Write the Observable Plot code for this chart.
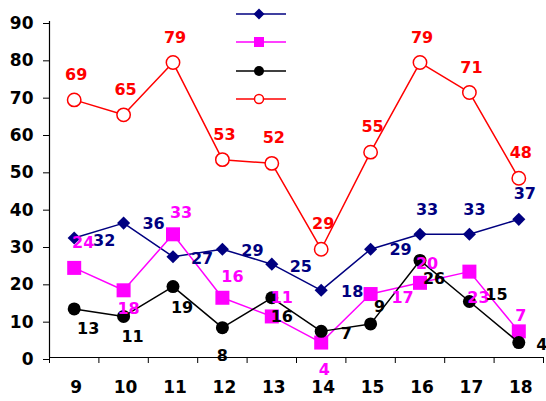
<!DOCTYPE html>
<html>
<head>
<meta charset="utf-8">
<script src="https://cdn.jsdelivr.net/npm/d3@7"></script>
<script src="https://cdn.jsdelivr.net/npm/@observablehq/plot@0.6"></script>
<style>
  html, body { margin: 0; padding: 0; background: #fff; }
  #wrap { position: relative; width: 546px; height: 401px; }
  #legend { position: absolute; left: 0; top: 0; pointer-events: none; }
</style>
</head>
<body>
<div id="wrap"></div>
<script>
// ---- data ----
const categories = [9, 10, 11, 12, 13, 14, 15, 16, 17, 18];
const navySeries    = [32, 36, 27, 29, 25, 18, 29, 33, 33, 37];
const magentaSeries = [24, 18, 33, 16, 11, 4, 17, 20, 23, 7];
const blackSeries   = [13, 11, 19, 8, 16, 7, 9, 26, 15, 4];
const redSeries     = [69, 65, 79, 53, 52, 29, 55, 79, 71, 48];
const yTicks = [0, 10, 20, 30, 40, 50, 60, 70, 80, 90];

// ---- label placement (pixel offsets, style only) ----
const navyOff    = [[30,3],[30,1],[29,2],[30,2],[29,3],[31,2],[30,1],[7,-24],[5,-24],[6,-25]];
const magentaOff = [[9,-25],[5,19],[8,-21],[10,-21],[10,-19],[3,27],[32,4],[7,-19],[9,26],[2,-15]];
const blackOff   = [[14,20],[9,20],[9,21],[0,28],[10,19],[25,3],[9,-17],[14,18],[27,-7],[23,2]];
const redOff     = categories.map(() => [2,-25]);

const FONT = "DejaVu Sans, Verdana, sans-serif";

const series = [
  {values: navySeries,    off: navyOff,    color: "#000080", symbol: "diamond2", r: 5.9, fill: "#000080"},
  {values: magentaSeries, off: magentaOff, color: "#FF00FF", symbol: "square",   r: 7.9, fill: "#FF00FF"},
  {values: blackSeries,   off: blackOff,   color: "#000000", symbol: "circle",   r: 6.5, fill: "#000000"},
  {values: redSeries,     off: redOff,     color: "#FF0000", symbol: "circle",   r: 6.7, fill: "#FFFFFF"}
];

const bounds = [categories[0] - 0.5, ...categories.map(c => c + 0.5)];

const marks = [];
marks.push(Plot.ruleY([0], {stroke: "#000", strokeWidth: 1.2}));
marks.push(Plot.ruleX([bounds[0]], {y1: 0, y2: 90, stroke: "#000", strokeWidth: 1.2}));
marks.push(Plot.axisY(yTicks, {tickSize: 6, tickPadding: 10, label: null, dy: 2,
  fontSize: 17, fontWeight: "bold", fill: "#000"}));
marks.push(Plot.axisX(bounds, {tickSize: 6, tickFormat: () => "", label: null}));
marks.push(Plot.axisX(categories, {tickSize: 0, tickPadding: 23, dx: 2, label: null,
  fontSize: 17, fontWeight: "bold", fill: "#000", tickFormat: d => String(d)}));

for (const s of series) {
  const rows = categories.map((c, i) => ({x: c, y: s.values[i]}));
  marks.push(Plot.line(rows, {x: "x", y: "y", stroke: s.color, strokeWidth: 1.5}));
  marks.push(Plot.dot(rows, {x: "x", y: "y", symbol: s.symbol, r: s.r, fill: s.fill,
    stroke: s.color, strokeWidth: s.fill === "#FFFFFF" ? 1.5 : 0}));
}
for (const s of series) {
  categories.forEach((c, i) => {
    marks.push(Plot.text([{x: c, y: s.values[i]}], {x: "x", y: "y", text: d => String(d.y),
      dx: s.off[i][0], dy: s.off[i][1], fill: s.color, fontSize: 16, fontWeight: "bold"}));
  });
}

const chart = Plot.plot({
  width: 546,
  height: 401,
  marginLeft: 49,
  marginRight: 3,
  marginTop: 21,
  marginBottom: 44,
  style: {fontFamily: FONT, background: "#fff", overflow: "visible"},
  x: {type: "linear", domain: [bounds[0], bounds[bounds.length - 1]]},
  y: {domain: [0, 90]},
  marks
});
document.getElementById("wrap").appendChild(chart);

// ---- legend (samples only, no labels) ----
const lg = d3.select("#wrap").append("svg").attr("id", "legend")
  .attr("width", 546).attr("height", 120);
const lx1 = 236, lx2 = 286, lcx = 259;
const rowsY = [14, 42, 71, 99];
series.forEach((s, i) => {
  const y = rowsY[i];
  lg.append("line").attr("x1", lx1).attr("x2", lx2).attr("y1", y).attr("y2", y)
    .attr("stroke", s.color).attr("stroke-width", 1.5);
  if (s.symbol === "diamond2") {
    lg.append("path").attr("d", `M${lcx},${y-5.5}L${lcx+5.5},${y}L${lcx},${y+5.5}L${lcx-5.5},${y}Z`)
      .attr("fill", s.fill);
  } else if (s.symbol === "square") {
    lg.append("rect").attr("x", lcx - 5).attr("y", y - 5).attr("width", 10).attr("height", 10)
      .attr("fill", s.fill);
  } else {
    lg.append("circle").attr("cx", lcx).attr("cy", y).attr("r", s.fill === "#FFFFFF" ? 4.5 : 5)
      .attr("fill", s.fill).attr("stroke", s.color).attr("stroke-width", s.fill === "#FFFFFF" ? 1.5 : 0);
  }
});
</script>
</body>
</html>
